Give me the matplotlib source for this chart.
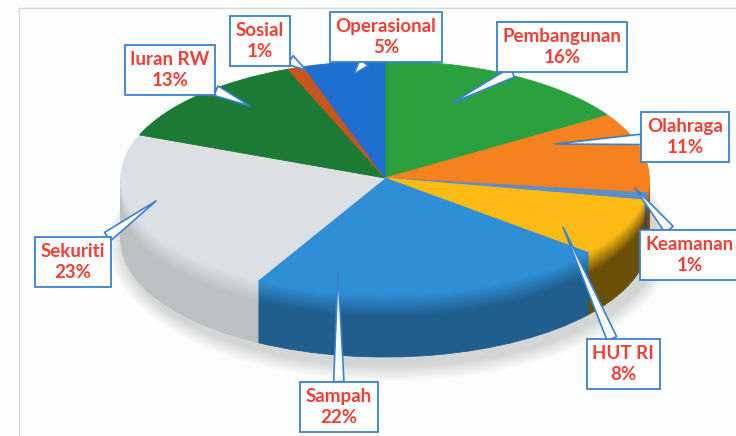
import numpy as np
import matplotlib.pyplot as plt
from matplotlib.colors import to_rgb
from matplotlib.lines import Line2D
from matplotlib.patches import Ellipse

# Data
labels = ["Pembangunan", "Olahraga", "Keamanan", "HUT RI", "Sampah",
          "Sekuriti", "Iuran RW", "Sosial", "Operasional"]
values = [16, 11, 1, 8, 22, 23, 13, 1, 5]
colors = ["#2aa13e", "#f5821f", "#5b8fc9", "#fcbb14", "#2f8fd6",
          "#dcdfe3", "#1c7a35", "#c4561e", "#1f6fd0"]
side_dark = [0.62, 0.55, 0.5, 0.42, 0.66, 0.86, 0.7, 0.7, 0.7]

# label box centres and arrow tips (image pixels, y from top)
label_pos = [(562, 47), (685, 137), (690, 255), (623, 364), (339, 407),
             (73, 262), (170, 70), (260, 41), (386, 37)]
tip_pos = [(452, 103), (555, 144), (635, 188), (563, 227), (338, 272),
           (156, 201), (250, 106), (306, 70), (354, 74)]

W, H = 736, 436
cx, cy = 385, 178       # centre of top face
rx, ry = 264, 117       # radii of top face
depth = 62              # thickness of the pie
k = rx / ry

fig = plt.figure(figsize=(W / 100, H / 100), dpi=100, facecolor="#fcfdfd")
ax = fig.add_axes([0, 0, 1, 1])


def ydat(ypix):
    return (H - ypix) * k


# soft shadow under the pie
for i in range(8):
    ax.add_patch(Ellipse((cx + 6, ydat(cy + depth + 4)), 2 * (rx + 4 + 2 * i),
                         2 * (ry + 6 + 2 * i) * k, color="black",
                         alpha=0.018, lw=0, zorder=0))

# side of the pie: stacked pies, darker further down
for d in range(depth, 0, -1):
    t = min(1.0, d / 22)
    cols = []
    for c, dk in zip(colors, side_dark):
        rgb = np.array(to_rgb(c))
        f = 1 - (1 - dk) * t
        cols.append(tuple(rgb * f))
    wedges, _ = ax.pie(values, colors=cols, startangle=90, counterclock=False,
                       radius=rx, center=(cx, ydat(cy + d)),
                       wedgeprops=dict(linewidth=0.6))
    for w in wedges:
        w.set_edgecolor(w.get_facecolor())
        w.set_zorder(1)

# top face
wedges, _ = ax.pie(values, colors=colors, startangle=90, counterclock=False,
                   radius=rx, center=(cx, ydat(cy)),
                   wedgeprops=dict(linewidth=0.6))
for w in wedges:
    w.set_edgecolor(w.get_facecolor())
    w.set_zorder(2)

ax.set_xlim(0, W)
ax.set_ylim(0, H * k)
ax.set_aspect("auto")
ax.axis("off")

# chart area border
fig.add_artist(Line2D([19, W], [H - 8, H - 8], transform=None, color="#d6d8da", lw=1))
fig.add_artist(Line2D([19, 19], [0, H - 8], transform=None, color="#d6d8da", lw=1))

# callout labels
for lab, v, (lx, ly), (tx, ty) in zip(labels, values, label_pos, tip_pos):
    ax.annotate(f"{lab}\n{v}%", xy=(tx, H - ty), xycoords="figure pixels",
                xytext=(lx, H - ly), textcoords="figure pixels",
                ha="center", va="center", fontsize=13.5, fontweight="bold",
                family="Lato", color="#ee4036", linespacing=1.3, zorder=5,
                bbox=dict(boxstyle="square,pad=0.3", fc="white", ec="#3a80d2", lw=1.3),
                arrowprops=dict(arrowstyle="wedge,tail_width=0.55,shrink_factor=0.5",
                                fc="white", ec="#3a80d2", lw=1.2,
                                shrinkA=0, shrinkB=0))

fig.savefig("out.png", dpi=100, facecolor=fig.get_facecolor())
